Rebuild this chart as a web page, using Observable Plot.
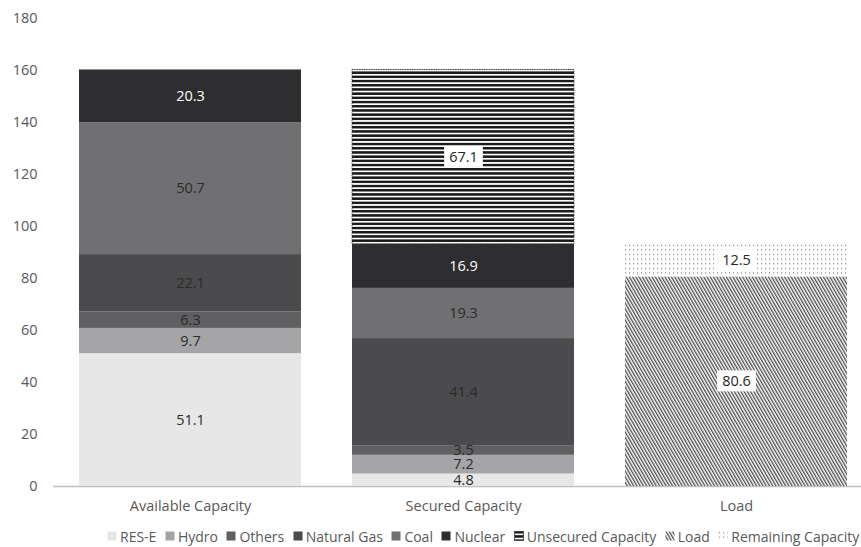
<!DOCTYPE html>
<html><head><meta charset="utf-8">
<script src="https://cdn.jsdelivr.net/npm/d3@7"></script>
<script src="https://cdn.jsdelivr.net/npm/@observablehq/plot@0.6"></script>
<style>
body{margin:0;background:#fff;font-family:"Open Sans",sans-serif;}
#legend{display:flex;align-items:center;font-size:14px;color:#595959;padding-left:107px;padding-top:3px;white-space:nowrap;height:22px;}
#legend .item{display:flex;align-items:center;margin-right:8.5px;}
#legend svg{margin-right:3px;}
</style></head><body><div id="chart"></div><div id="legend"></div>
<script>
const categories = ["Available Capacity", "Secured Capacity", "Load"];
const seriesNames = ["RES-E", "Hydro", "Others", "Natural Gas", "Coal", "Nuclear", "Unsecured Capacity", "Load", "Remaining Capacity"];
const availableSeries = ["RES-E", "Hydro", "Others", "Natural Gas", "Coal", "Nuclear"];
const availableValues = [51.1, 9.7, 6.3, 22.1, 50.7, 20.3];
const securedSeries = ["RES-E", "Hydro", "Others", "Natural Gas", "Coal", "Nuclear", "Unsecured Capacity"];
const securedValues = [4.8, 7.2, 3.5, 41.4, 19.3, 16.9, 67.1];
const loadSeries = ["Load", "Remaining Capacity"];
const loadValues = [80.6, 12.5];
const yTicks = [0, 20, 40, 60, 80, 100, 120, 140, 160, 180];
const seriesFills = ["#e7e7e8", "#a5a5a7", "#606062", "#4b4b4d", "#707072", "#2e2d2f", "url(#pat-unsecured)", "url(#pat-load)", "url(#pat-remaining)"];
const whiteLabelSeries = ["Nuclear"];
const boxedLabelSeries = ["Unsecured Capacity", "Load", "Remaining Capacity"];

const rows = [
  ...availableSeries.map((s, i) => ({category: categories[0], series: s, value: availableValues[i]})),
  ...securedSeries.map((s, i) => ({category: categories[1], series: s, value: securedValues[i]})),
  ...loadSeries.map((s, i) => ({category: categories[2], series: s, value: loadValues[i]}))
];

const stackOpts = {x: "category", y: "value", z: "series", order: seriesNames};
const fmt = d => d.value.toFixed(1);

const svg = Plot.plot({
  width: 861, height: 522,
  marginLeft: 53, marginRight: 0, marginTop: 18, marginBottom: 36,
  style: {fontFamily: "Open Sans", fontSize: "14.5px", color: "#595959", background: "#fff"},
  x: {domain: categories, range: [53, 874], paddingInner: 0.185, paddingOuter: 0.093, label: null, tickSize: 0, tickPadding: 14},
  y: {domain: [0, 180], ticks: yTicks, label: null, tickSize: 0, tickPadding: 16},
  color: {domain: seriesNames, range: seriesFills},
  opacity: {type: "identity"},
  marks: [
    Plot.ruleY([0], {stroke: "#bfbfbf", strokeWidth: 1.3}),
    Plot.barY(rows, Plot.stackY({...stackOpts, fill: "series"})),
    Plot.barY(rows, Plot.stackY({...stackOpts, fill: "none", stroke: "#3a3a3a", strokeWidth: 1, strokeDasharray: "1.2,1.2",
      strokeOpacity: d => d.series === "Unsecured Capacity" ? 1 : 0})),
    Plot.text(rows, {...Plot.stackY({...stackOpts, text: fmt, fill: "#2a2a2a"}),
      filter: d => !whiteLabelSeries.includes(d.series) && !boxedLabelSeries.includes(d.series)}),
    Plot.text(rows, {...Plot.stackY({...stackOpts, text: fmt, fill: "#ffffff"}),
      filter: d => whiteLabelSeries.includes(d.series)}),
    Plot.text(rows, {...Plot.stackY({...stackOpts, text: fmt, fill: "#262626"}),
      filter: d => boxedLabelSeries.includes(d.series), ariaDescription: "boxed-labels"})
  ]
});

const defs = d3.select(svg).insert("defs", ":first-child");
const pu = defs.append("pattern").attr("id", "pat-unsecured").attr("patternUnits", "userSpaceOnUse").attr("width", 8).attr("height", 4.2);
pu.append("rect").attr("width", 8).attr("height", 4.2).attr("fill", "#ffffff");
pu.append("rect").attr("width", 8).attr("height", 2.5).attr("fill", "#1a1a1a");
const pl = defs.append("pattern").attr("id", "pat-load").attr("patternUnits", "userSpaceOnUse").attr("width", 2.8).attr("height", 10).attr("patternTransform", "rotate(-30)");
pl.append("rect").attr("width", 2.8).attr("height", 10).attr("fill", "#ffffff");
pl.append("rect").attr("width", 1.3).attr("height", 10).attr("fill", "#4a4a4a");
const pr = defs.append("pattern").attr("id", "pat-remaining").attr("patternUnits", "userSpaceOnUse").attr("width", 4).attr("height", 4.6);
pr.append("rect").attr("width", 4).attr("height", 4.6).attr("fill", "#ffffff");
pr.append("rect").attr("x", 1).attr("y", 1).attr("width", 1.1).attr("height", 1.1).attr("fill", "#7a7a7a");

document.getElementById("chart").appendChild(svg);

const boxedGroup = Array.from(svg.querySelectorAll("g")).filter(g => g.getAttribute("aria-description") === "boxed-labels");
boxedGroup.forEach(g => {
  Array.from(g.querySelectorAll("text")).forEach(t => {
    const b = t.getBBox();
    const r = document.createElementNS("http://www.w3.org/2000/svg", "rect");
    r.setAttribute("x", b.x - 5); r.setAttribute("y", b.y - 1);
    r.setAttribute("width", b.width + 10); r.setAttribute("height", b.height + 2);
    r.setAttribute("fill", "#ffffff");
    if (t.getAttribute("transform")) r.setAttribute("transform", t.getAttribute("transform"));
    t.parentNode.insertBefore(r, t);
  });
});

const legend = d3.select("#legend");
seriesNames.forEach((s, i) => {
  const item = legend.append("div").attr("class", "item");
  const sw = item.append("svg").attr("width", 10).attr("height", 10);
  sw.append("rect").attr("x", 0.5).attr("y", 0.5).attr("width", 9).attr("height", 9).attr("fill", seriesFills[i])
    .attr("stroke", s === "Unsecured Capacity" ? "#3a3a3a" : "none").attr("stroke-width", 0.8);
  item.append("span").text(s);
});
</script></body></html>
